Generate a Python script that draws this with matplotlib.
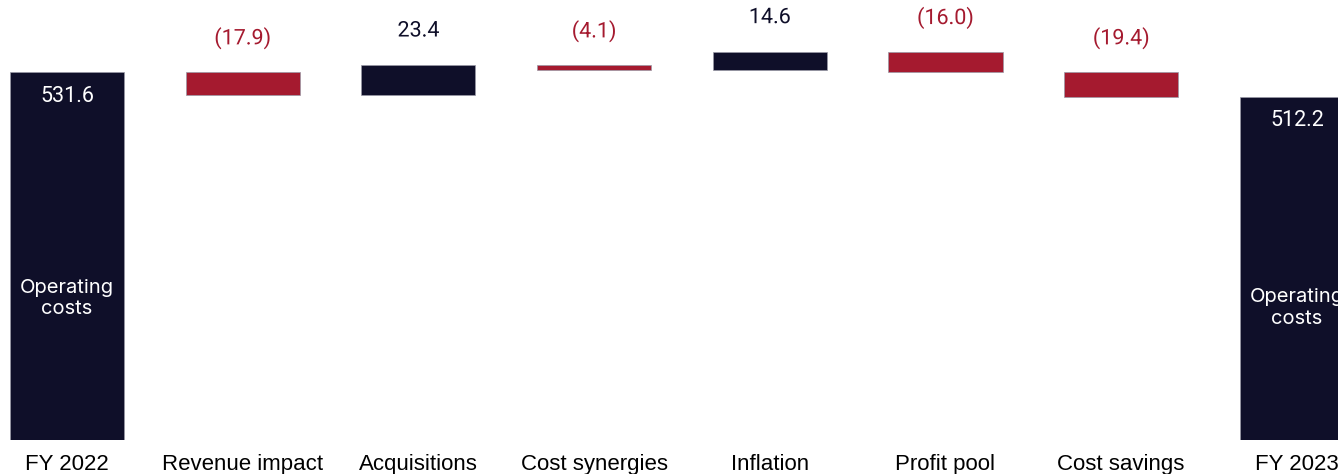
import matplotlib.pyplot as plt
import matplotlib.patheffects as pe

# waterfall data
categories = ["FY 2022", "Revenue impact", "Acquisitions", "Cost synergies",
              "Inflation", "Profit pool", "Cost savings", "FY 2023"]
start_total = 531.6
changes = [-17.9, 23.4, -4.1, 14.6, -16.0, -19.4]
end_total = 512.2

navy = "#0f0f29"
red = "#a51a2f"

fig = plt.figure(figsize=(13.38, 4.74), dpi=100)
ax = fig.add_axes([0, 34 / 474, 1, 440 / 474])

ymin, ymax = 241.9, 588.3
ax.set_ylim(ymin, ymax)
ax.set_xlim(-0.381, 7.234)
w = 0.65

halo = [pe.withStroke(linewidth=3.5, foreground="white")]

# totals
for i, val in [(0, start_total), (7, end_total)]:
    ax.bar(i, val - ymin, bottom=ymin, width=w, color=navy, edgecolor="#9a9aa6", linewidth=0.5)
    ax.annotate(f"{val:.1f}", (i, val), xytext=(0, -17.5), textcoords="offset points",
                ha="center", va="center", color="white", fontsize=15.5, family="Roboto")
    ax.text(i, ymin + (val - ymin) * 0.385, "Operating\ncosts", ha="center", va="center",
            color="white", fontsize=14.5, family="Inter", linespacing=1.25)

# steps
level = start_total
for k, d in enumerate(changes):
    i = k + 1
    lo, hi = (level, level + d) if d > 0 else (level + d, level)
    col = navy if d > 0 else red
    ax.bar(i, hi - lo, bottom=lo, width=w, color=col, edgecolor="#9a9aa6", linewidth=0.5)
    txt = f"{d:.1f}" if d > 0 else f"({abs(d):.1f})"
    ax.annotate(txt, (i, hi), xytext=(0, 24.5), textcoords="offset points",
                ha="center", va="center", color=col, fontsize=15.5, family="Roboto",
                path_effects=halo)
    level += d

ax.set_xticks(range(len(categories)))
ax.set_xticklabels(categories, fontsize=16, family="Liberation Sans", color="black")
ax.tick_params(axis="x", length=0, pad=10)
ax.set_yticks([])
for s in ax.spines.values():
    s.set_visible(False)

fig.savefig("out.png", dpi=100)
